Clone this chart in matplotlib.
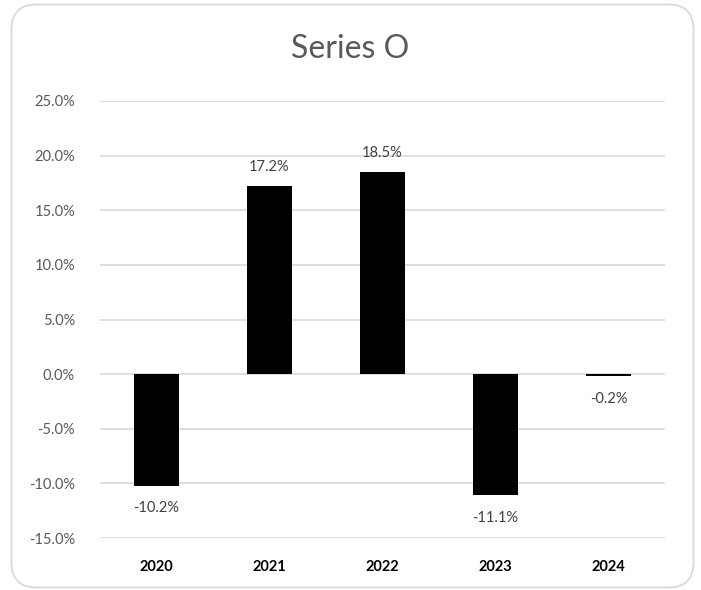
import matplotlib
matplotlib.use("Agg")
import matplotlib.pyplot as plt
from matplotlib.patches import FancyBboxPatch
from matplotlib.ticker import FuncFormatter

plt.rcParams['font.family'] = ['Lato', 'DejaVu Sans']

categories = ["2020", "2021", "2022", "2023", "2024"]
values = [-10.2, 17.2, 18.5, -11.1, -0.2]
yticks = [-15, -10, -5, 0, 5, 10, 15, 20, 25]
title = "Series O"

fig = plt.figure(figsize=(7.01, 5.90), dpi=100)
fig.patch.set_facecolor("white")

# background axes in pixel coordinates for the rounded border
bg = fig.add_axes([0, 0, 1, 1], zorder=-10)
bg.set_xlim(0, 701)
bg.set_ylim(590, 0)
bg.axis("off")
border = FancyBboxPatch((11.5, 4.5), 682, 583,
                        boxstyle="round,pad=0,rounding_size=25",
                        facecolor="white", edgecolor="#d9d9d9", linewidth=1.3)
bg.add_patch(border)

ax = fig.add_axes([100/701, 1 - 538/590, 565/701, (538 - 101)/590])
ax.set_facecolor("none")
x = list(range(len(categories)))
ax.bar(x, values, width=0.4, color="black", zorder=3)
ax.set_xlim(-0.5, len(categories) - 0.5)
ax.set_ylim(-15, 25)
ax.set_yticks(yticks)
ax.yaxis.set_major_formatter(FuncFormatter(lambda v, p: f"{v:.1f}%"))
ax.grid(axis="y", color="#d9d9d9", linewidth=1.2, zorder=0)
ax.set_axisbelow(True)
for s in ax.spines.values():
    s.set_visible(False)
ax.tick_params(axis="y", length=0, labelsize=10.5, labelcolor="#595959", pad=18)
ax.tick_params(axis="x", length=0, pad=16)
ax.set_xticks(x)
ax.set_xticklabels(categories, fontsize=10.5, fontweight="bold", color="black")

for xi, v in zip(x, values):
    off = 14 if v >= 0 else -16
    ax.annotate(f"{v:.1f}%", (xi, v), xytext=(0, off), textcoords="offset points",
                ha="center", va="center", fontsize=10.5, color="#404040")

fig.text(0.5, 1 - 49/590, title, ha="center", va="center", fontsize=23, color="#595959")

fig.savefig("out.png", dpi=100)
